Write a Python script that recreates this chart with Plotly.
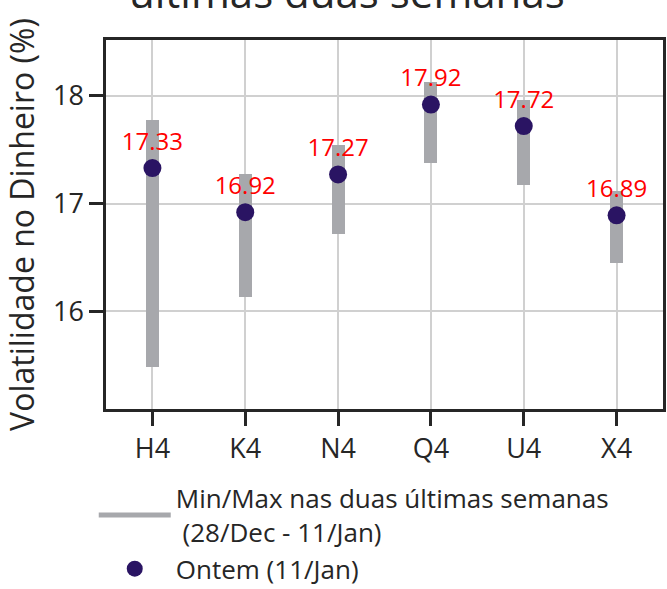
import plotly.graph_objects as go

categories = ["H4", "K4", "N4", "Q4", "U4", "X4"]
vol_min = [15.48, 16.13, 16.72, 17.38, 17.17, 16.45]
vol_max = [17.78, 17.27, 17.54, 18.13, 17.96, 17.12]
vol_ontem = [17.33, 16.92, 17.27, 17.92, 17.72, 16.89]
y_ticks = [16, 17, 18]

FONT = "Open Sans"
BAR_COLOR = "#a7a8ac"
DOT_COLOR = "#2a1463"
INK = "#262626"

fig = go.Figure()

fig.add_trace(go.Bar(
    x=categories,
    y=[mx - mn for mn, mx in zip(vol_min, vol_max)],
    base=vol_min,
    width=0.14,
    marker=dict(color=BAR_COLOR, line=dict(width=0)),
    showlegend=False,
    hoverinfo="skip",
))

fig.add_trace(go.Scatter(
    x=[None], y=[None],
    mode="lines",
    line=dict(color=BAR_COLOR, width=5),
    name="Min/Max nas duas últimas semanas<br> (28/Dec - 11/Jan)",
))

fig.add_trace(go.Scatter(
    x=categories,
    y=vol_ontem,
    mode="markers+text",
    marker=dict(color=DOT_COLOR, size=18),
    texttemplate="%{y:.2f}",
    textposition="top center",
    textfont=dict(color="red", size=24, family=FONT),
    name="Ontem (11/Jan)",
))

fig.add_annotation(
    text="últimas duas semanas",
    xref="paper", yref="paper", x=0.433, y=1,
    xanchor="center", yanchor="bottom", yshift=18,
    showarrow=False,
    font=dict(size=42, family=FONT, color=INK),
)

fig.update_layout(
    width=667, height=589,
    margin=dict(l=106, r=4, t=40, b=180, autoexpand=False),
    paper_bgcolor="white",
    plot_bgcolor="white",
    font=dict(family=FONT, color=INK),
    bargap=0,
    legend=dict(
        x=-0.022, y=-0.178, xanchor="left", yanchor="top",
        font=dict(size=26, family=FONT, color=INK),
        itemwidth=72,
        bgcolor="rgba(0,0,0,0)",
    ),
)

fig.update_xaxes(
    range=[-0.5, 5.5], automargin=False,
    showline=True, linecolor=INK, linewidth=2.5, mirror=True,
    showgrid=True, gridcolor="#d0d0d0", gridwidth=1.5,
    ticks="outside", ticklen=14, tickwidth=2.5, tickcolor=INK,
    tickfont=dict(size=27, family=FONT, color=INK),
)

fig.update_yaxes(
    range=[15.09, 18.52], automargin=False,
    tickvals=y_ticks,
    showline=True, linecolor=INK, linewidth=2.5, mirror=True,
    showgrid=True, gridcolor="#d0d0d0", gridwidth=1.5,
    ticks="outside", ticklen=14, tickwidth=2.5, tickcolor=INK,
    tickfont=dict(size=27, family=FONT, color=INK),
    title=dict(text="Volatilidade no Dinheiro (%)", font=dict(size=32, family=FONT, color=INK), standoff=12),
    zeroline=False,
)

fig.write_html(
    "out.html",
    config={"displayModeBar": False},
    post_script="document.body.style.margin='0';document.body.style.padding='0';",
)
